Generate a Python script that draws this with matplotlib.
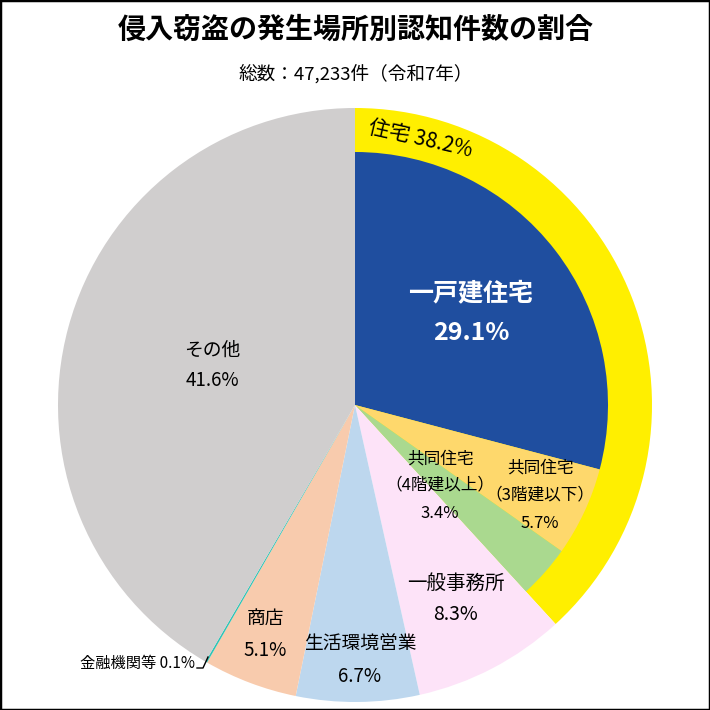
import matplotlib
matplotlib.use("Agg")
import matplotlib.pyplot as plt
from matplotlib.patches import Rectangle

plt.rcParams['font.family'] = ['Noto Sans CJK JP', 'DejaVu Sans']

# Data
categories = ["一戸建住宅", "共同住宅（3階建以下）", "共同住宅（4階建以上）", "一般事務所",
              "生活環境営業", "商店", "金融機関等", "その他"]
values = [29.1, 5.7, 3.4, 8.3, 6.7, 5.1, 0.1, 41.6]
residential_total = 38.2
colors = ["#1F4E9F", "#FED86C", "#AAD98F", "#FDE3F8", "#BDD7EE", "#F8CBAD", "#2EC4B6", "#D0CECE"]
title = "侵入窃盗の発生場所別認知件数の割合"
subtitle = "総数：47,233件（令和7年）"

W = H = 710
fig = plt.figure(figsize=(7.1, 7.1), dpi=100)
ax = fig.add_axes([0, 0, 1, 1])
ax.set_xlim(0, W)
ax.set_ylim(0, H)
ax.set_aspect('equal')
ax.axis('off')

cx, cy = 355, H - 405
R, r = 297, 253

# outer yellow ring for residential
ax.pie([residential_total, 100 - residential_total], colors=["#FFEF00", "none"],
       startangle=90, counterclock=False, radius=R, center=(cx, cy), frame=True,
       wedgeprops=dict(linewidth=0))
wedges, _ = ax.pie(values, colors=colors, startangle=90, counterclock=False, radius=R,
                   center=(cx, cy), frame=True, wedgeprops=dict(linewidth=0))
for w in wedges[:3]:
    w.set_radius(r)
ax.set_xlim(0, W)
ax.set_ylim(0, H)
ax.axis('off')

def t(x, y, s, **kw):
    kw.setdefault('ha', 'center')
    kw.setdefault('va', 'center')
    ax.text(x, H - y, s, **kw)

t(356, 30, title, fontsize=20.2, fontweight='bold')
t(356, 74, subtitle, fontsize=13.4)

t(420, 139, f"住宅 {residential_total}%", fontsize=15, rotation=-13)
t(471, 293, categories[0], fontsize=18, fontweight='bold', color='white')
t(471, 333, f"{values[0]}%", fontsize=18, fontweight='bold', color='white')

t(540, 468, "共同住宅", fontsize=12)
t(540, 495, "（3階建以下）", fontsize=12)
t(540, 523, f"{values[1]}%", fontsize=12)

t(440, 459, "共同住宅", fontsize=12)
t(440, 485, "（4階建以上）", fontsize=12)
t(440, 513, f"{values[2]}%", fontsize=12)

t(456, 583, categories[3], fontsize=14)
t(456, 614, f"{values[3]}%", fontsize=14)

t(360, 643, categories[4], fontsize=13.5)
t(360, 677, f"{values[4]}%", fontsize=13.5)

t(265, 618, categories[5], fontsize=13.5)
t(265, 650, f"{values[5]}%", fontsize=13.5)

t(137, 663, f"{categories[6]} {values[6]}%", fontsize=11)
ax.plot([197, 203, 208], [H - 668, H - 668, H - 657], color='black', lw=1)

t(212, 350, categories[7], fontsize=13.5)
t(212, 381, f"{values[7]}%", fontsize=13.5)

fig.patches.append(Rectangle((0, 0), 1, 1, transform=fig.transFigure, fill=False,
                             edgecolor='black', linewidth=2.5))

fig.savefig("out.png", dpi=100)
